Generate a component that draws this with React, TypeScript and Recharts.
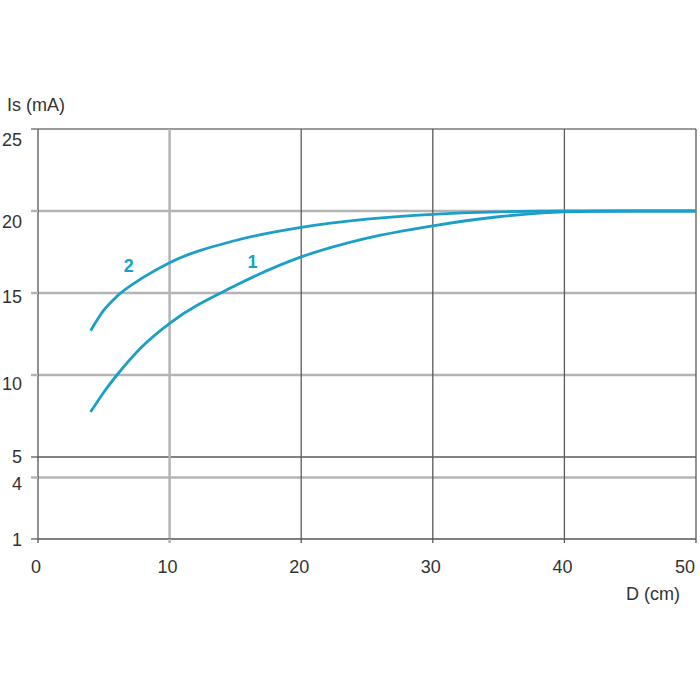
import React from 'react';
import { LineChart, Line, XAxis, YAxis, ReferenceLine, ReferenceDot } from 'recharts';

// distance D (cm)
const distances = [4, 5, 6, 8, 10, 15, 20, 25, 30, 35, 40, 45, 50];
// switching current Is (mA), curve 1 and curve 2
const curve1 = [7.75, 8.95, 10.0, 11.8, 13.15, 15.45, 17.2, 18.35, 19.1, 19.65, 19.95, 20, 20];
const curve2 = [12.7, 13.95, 14.8, 15.95, 16.85, 18.2, 19.0, 19.5, 19.8, 19.95, 20, 20, 20];

// the y scale is drawn schematically: the bottom line is labelled "1"
const yTickValues = [0, 3.75, 5, 10, 15, 20, 25];
const yTickLabels = ['1', '4', '5', '10', '15', '20', '25'];
const xTickValues = [0, 10, 20, 30, 40, 50];

// curve label anchors (data space)
const curveLabels = [
  { name: '1', x: 16.3, y: 16.9 },
  { name: '2', x: 6.9, y: 16.65 },
];

const data = distances.map((d, i) => ({ d, c1: curve1[i], c2: curve2[i] }));

const FONT = '"Liberation Sans", Arial, sans-serif';
const TEXT = '#333';
const CURVE = '#1b9fc9';
const LIGHT = { stroke: '#b4b4b4', strokeWidth: 2.5 };
const DARK = { stroke: '#5a5a5a', strokeWidth: 1.3 };

const PLOT_LEFT = 38;
const PLOT_BOTTOM = 539;
// the y labels sit a little below their lines in the original
const yLabelShift = [0, 6, -1, 8, 3, 10, 10];

const yLineStyle = (v: number) => {
  if (v === 0 || v === 5) return DARK;
  if (v === 25) return { stroke: '#7a7a7a', strokeWidth: 1.5 };
  return LIGHT;
};
const xLineStyle = (v: number) => (v === 10 ? LIGHT : DARK);

const YTick = (props: any) => {
  const { y, payload, index } = props;
  const st = yLineStyle(payload.value);
  return (
    <g>
      <line x1={PLOT_LEFT - 7} x2={PLOT_LEFT} y1={y} y2={y} {...st} />
      <text x={PLOT_LEFT - 16} y={y + yLabelShift[index]} dy={6.5} textAnchor="end" fill={TEXT} fontSize={18} fontFamily={FONT}>
        {yTickLabels[index]}
      </text>
    </g>
  );
};

const XTick = (props: any) => {
  const { x, payload } = props;
  const st = xLineStyle(payload.value);
  return (
    <g>
      <line x1={x} x2={x} y1={PLOT_BOTTOM} y2={PLOT_BOTTOM + 4} {...st} />
      <text x={Math.min(x - 2, 685)} y={PLOT_BOTTOM + 34} textAnchor="middle" fill={TEXT} fontSize={18} fontFamily={FONT}>
        {payload.value}
      </text>
    </g>
  );
};

export default function App() {
  return (
    <div style={{ position: 'absolute', left: 0, top: 0, width: 700, height: 700, background: '#fff', fontFamily: FONT }}>
      <LineChart
        width={700}
        height={700}
        data={data}
        margin={{ top: 129, right: 4, bottom: 131, left: 0 }}
      >
        <XAxis
          dataKey="d"
          type="number"
          domain={[0, 50]}
          ticks={xTickValues}
          interval={0}
          height={30}
          tick={<XTick />}
          tickLine={false}
          axisLine={{ stroke: '#555', strokeWidth: 1.3 }}
        />
        <YAxis
          type="number"
          domain={[0, 25]}
          ticks={yTickValues}
          interval={0}
          width={38}
          tick={<YTick />}
          tickLine={false}
          axisLine={{ stroke: '#555', strokeWidth: 1.3 }}
        />
        {yTickValues.filter((v) => v > 0).map((v) => (
          <ReferenceLine key={'y' + v} y={v} {...yLineStyle(v)} />
        ))}
        {xTickValues.filter((v) => v > 0).map((v) => (
          <ReferenceLine key={'x' + v} x={v} {...xLineStyle(v)} />
        ))}
        <Line type="monotone" dataKey="c1" stroke={CURVE} strokeWidth={2.8} dot={false} isAnimationActive={false} />
        <Line type="monotone" dataKey="c2" stroke={CURVE} strokeWidth={2.8} dot={false} isAnimationActive={false} />
        {curveLabels.map((l) => (
          <ReferenceDot
            key={l.name}
            x={l.x}
            y={l.y}
            r={0}
            fill="none"
            stroke="none"
            label={{ value: l.name, position: 'center', fill: CURVE, fontSize: 18, fontWeight: 'bold', fontFamily: FONT }}
          />
        ))}
      </LineChart>
      <div style={{ position: 'absolute', left: 7, top: 95, fontSize: 18, color: TEXT }}>Is (mA)</div>
      <div style={{ position: 'absolute', left: 626, top: 584, fontSize: 18, color: TEXT }}>D (cm)</div>
    </div>
  );
}
